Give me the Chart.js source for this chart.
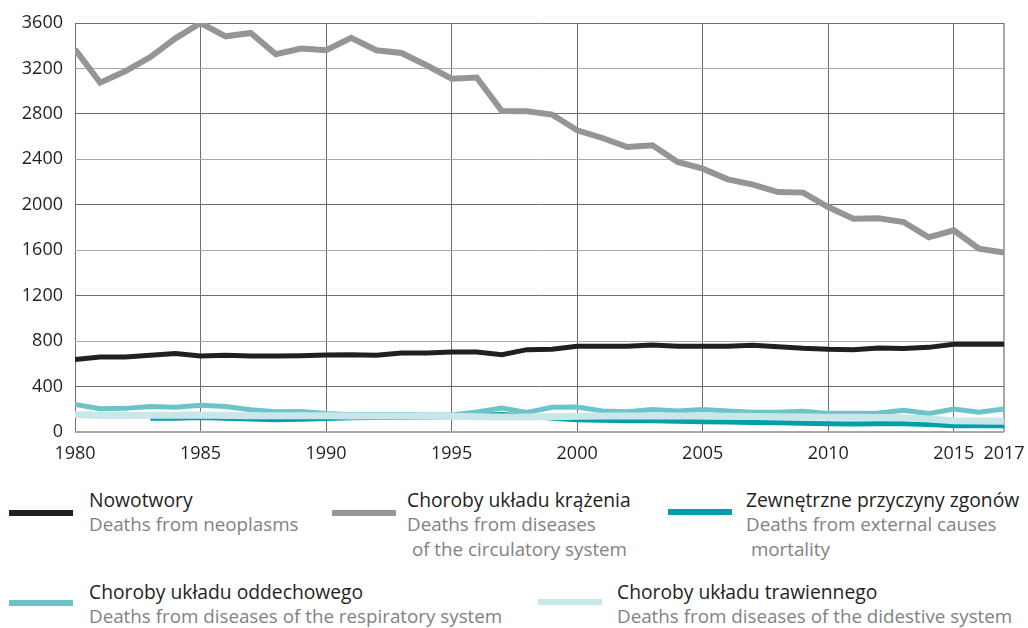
<!DOCTYPE html>
<html>
<head>
<meta charset="utf-8">
<script src="https://cdn.jsdelivr.net/npm/chart.js@4/dist/chart.umd.min.js"></script>
<style>
  body { margin: 0; background: #fff; font-family: "Open Sans", sans-serif; }
  #wrap { position: relative; width: 1028px; height: 628px; overflow: hidden; }
  #chartBox { position: absolute; left: 0; top: 0; width: 1028px; height: 470px; }
  .sw { position: absolute; width: 64px; height: 6px; }
  .lt { position: absolute; line-height: 25px; white-space: pre; }
  .lt .pl { color: #231f20; font-size: 19.3px; }
  .lt .en { color: #808285; font-size: 18.8px; }
</style>
</head>
<body>
<div id="wrap">
  <div id="chartBox"><canvas id="chart"></canvas></div>
  <div id="legend"></div>
</div>
<script>
// data
years = []
for (let y = 1980; y <= 2017; y++) years.push(y)

neoplasms = [637, 660, 660, 675, 690, 669, 675, 669, 669, 672,
             678, 681, 676, 695, 695, 704, 704, 681, 725, 728,
             754, 754, 754, 766, 754, 754, 754, 763, 751, 737,
             728, 725, 740, 734, 745, 772, 772, 772]

circulatory = [3368, 3075, 3175, 3300, 3465, 3600, 3483, 3512, 3325, 3375,
               3360, 3470, 3360, 3336, 3228, 3110, 3120, 2826, 2823, 2794,
               2656, 2588, 2508, 2523, 2377, 2318, 2224, 2177, 2112, 2107,
               1980, 1878, 1882, 1848, 1714, 1775, 1614, 1579]

external = [null, null, null, 120, 122, 127, 120, 115, 108, 112,
            118, 125, 128, 130, 130, 135, 148, 155, 140, 120,
            108, 103, 100, 98, 95, 90, 88, 84, 82, 78,
            73, 70, 72, 72, 65, 55, 56, 56]

respiratory = [242, 205, 208, 224, 218, 236, 224, 195, 178, 180,
               162, 152, 153, 153, 150, 150, 176, 212, 173, 218,
               220, 185, 179, 197, 185, 197, 185, 173, 173, 182,
               164, 164, 167, 191, 162, 203, 173, 203]

digestive = [153, 145, 145, 147, 148, 150, 145, 143, 142, 143,
             142, 140, 140, 140, 138, 138, 135, 132, 132, 135,
             138, 140, 140, 140, 140, 140, 138, 137, 135, 132,
             130, 130, 128, 125, 115, 100, 97, 95]

namesPl = ['Nowotwory', 'Choroby układu krążenia', 'Zewnętrzne przyczyny zgonów',
           'Choroby układu oddechowego', 'Choroby układu trawiennego']
namesEn = ['Deaths from neoplasms', 'Deaths from diseases\n of the circulatory system',
           'Deaths from external causes\n mortality',
           'Deaths from diseases of the respiratory system',
           'Deaths from diseases of the didestive system']

xTicks = [1980, 1985, 1990, 1995, 2000, 2005, 2010, 2015, 2017]

// styles
colors = ['#231f20', '#939598', '#00a0a8', '#6cc4c8', '#c9e7e9']
widths = [5, 6, 5, 5, 7]
drawOrder = [2, 1, 5, 4, 3]   // lower = on top
seriesList = [neoplasms, circulatory, external, respiratory, digestive]

function pts(vals) {
    out = []
    for (let i = 0; i < years.length; i++) {
        out.push({x: years[i], y: vals[i]})
    }
    return out
}

datasets = []
for (let i = 0; i < seriesList.length; i++) {
    datasets.push({
        label: namesPl[i],
        data: pts(seriesList[i]),
        borderColor: colors[i],
        backgroundColor: colors[i],
        borderWidth: widths[i],
        pointRadius: 0,
        tension: 0,
        order: drawOrder[i],
        borderJoinStyle: 'miter'
    })
}

tickFont = {family: '"Open Sans", sans-serif', size: 18}

config = {
    type: 'line',
    data: {datasets: datasets},
    options: {
        responsive: true,
        maintainAspectRatio: false,
        animation: false,
        layout: {padding: {top: 23, right: 24, left: 0, bottom: 0}},
        plugins: {legend: {display: false}, tooltip: {enabled: false}},
        scales: {
            x: {
                type: 'linear',
                min: 1980,
                max: 2017,
                afterBuildTicks: function(scale) {
                    scale.ticks = xTicks.map(v => ({value: v}))
                },
                afterFit: function(scale) {
                    scale.height = 38
                    scale.paddingLeft = 0
                    scale.paddingRight = 0
                },
                ticks: {
                    autoSkip: false,
                    maxRotation: 0,
                    padding: 11,
                    color: '#231f20',
                    font: tickFont,
                    callback: v => String(v)
                },
                grid: {
                    drawTicks: false,
                    color: c => (c.tick && c.tick.value === 2017) ? '#a7a9ac' : '#6d6e71',
                    lineWidth: c => (c.tick && c.tick.value === 2017) ? 2 : 1
                },
                border: {display: false}
            },
            y: {
                min: 0,
                max: 3600,
                afterFit: function(scale) { scale.width = 75 },
                ticks: {
                    stepSize: 400,
                    padding: 12,
                    color: '#231f20',
                    font: tickFont,
                    callback: v => String(v)
                },
                grid: {
                    drawTicks: false,
                    color: c => (c.tick && c.tick.value % 800 === 0) ? '#a7a9ac' : '#6d6e71',
                    lineWidth: c => (c.tick && c.tick.value === 0) ? 2 : 1
                },
                border: {display: false}
            }
        }
    }
}

myChart = new Chart(document.getElementById('chart'), config)

// legend built from the chart's datasets
legendPos = [
    {sw: [9, 510], tx: [89, 487]},
    {sw: [332, 510], tx: [407, 487]},
    {sw: [668, 509], tx: [746, 487]},
    {sw: [9, 600], tx: [89, 579]},
    {sw: [538, 599], tx: [617, 579]}
]
legend = document.getElementById('legend')
myChart.data.datasets.forEach(function(ds, i) {
    sw = document.createElement('div')
    sw.className = 'sw'
    sw.style.left = legendPos[i].sw[0] + 'px'
    sw.style.top = legendPos[i].sw[1] + 'px'
    sw.style.background = ds.borderColor
    legend.appendChild(sw)

    tx = document.createElement('div')
    tx.className = 'lt'
    tx.style.left = legendPos[i].tx[0] + 'px'
    tx.style.top = legendPos[i].tx[1] + 'px'
    pl = document.createElement('div')
    pl.className = 'pl'
    pl.textContent = ds.label
    en = document.createElement('div')
    en.className = 'en'
    en.textContent = namesEn[i]
    tx.appendChild(pl)
    tx.appendChild(en)
    legend.appendChild(tx)
})
</script>
</body>
</html>
